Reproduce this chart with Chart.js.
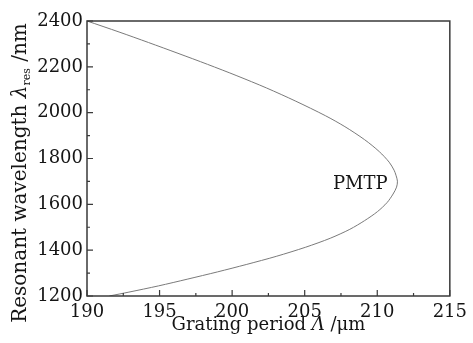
<!DOCTYPE html>
<html>
<head>
<meta charset="utf-8">
<script src="https://cdn.jsdelivr.net/npm/chart.js@4.4.0/dist/chart.umd.min.js"></script>
<style>
  html, body { margin: 0; padding: 0; background: #fff; }
  #wrap { width: 473px; height: 343px; }
</style>
</head>
<body>
<div id="wrap"><canvas id="chart"></canvas></div>
<script>
// curve, upper branch first, then lower branch
const periodUm = [190.00, 192.21, 194.24, 196.27, 198.30, 200.33, 202.36, 204.39, 206.42, 207.77,
  209.13, 210.14, 210.82, 211.16, 211.29, 211.39,
  211.33, 211.09, 210.68, 210.01, 209.13, 208.11, 206.76, 205.07, 203.04, 201.01,
  198.98, 196.95, 194.92, 192.89, 191.54];
const wavelengthNm = [2400, 2352, 2306, 2259, 2211, 2161, 2108, 2050, 1987, 1939,
  1882, 1830, 1784, 1749, 1727, 1701,
  1675, 1645, 1608, 1568, 1529, 1491, 1452, 1413, 1373, 1338,
  1305, 1274, 1244, 1217, 1200];

const xTicks = [190, 195, 200, 205, 210, 215];
const yTicks = [1200, 1400, 1600, 1800, 2000, 2200, 2400];
const xMinor = [192.5, 197.5, 202.5, 207.5, 212.5];
const yMinor = [1300, 1500, 1700, 1900, 2100, 2300];

const serif = "'DejaVu Serif', 'Liberation Serif', serif";
const ink = '#151515';

const framePlugin = {
  id: 'frame',
  afterDraw(chart) {
    const ctx = chart.ctx;
    const a = chart.chartArea;
    const xs = chart.scales.x, ys = chart.scales.y;
    ctx.save();
    ctx.strokeStyle = '#3a3a3a';
    ctx.lineWidth = 1.5;
    ctx.strokeRect(a.left, a.top, a.right - a.left, a.bottom - a.top);

    // inward ticks on bottom and left
    ctx.lineWidth = 1.2;
    ctx.beginPath();
    xTicks.forEach(v => { const p = xs.getPixelForValue(v); ctx.moveTo(p, a.bottom); ctx.lineTo(p, a.bottom - 6); });
    xMinor.forEach(v => { const p = xs.getPixelForValue(v); ctx.moveTo(p, a.bottom); ctx.lineTo(p, a.bottom - 3); });
    yTicks.forEach(v => { const p = ys.getPixelForValue(v); ctx.moveTo(a.left, p); ctx.lineTo(a.left + 6, p); });
    yMinor.forEach(v => { const p = ys.getPixelForValue(v); ctx.moveTo(a.left, p); ctx.lineTo(a.left + 3, p); });
    ctx.stroke();

    // PMTP label
    ctx.fillStyle = ink;
    ctx.font = '18px ' + serif;
    ctx.textAlign = 'left';
    ctx.textBaseline = 'middle';
    ctx.fillText('PMTP', 333, 184);

    // x axis title
    ctx.textBaseline = 'alphabetic';
    const xParts = [['Grating period ', '18px ' + serif], ['Λ', 'italic 18px ' + serif], [' /μm', '18px ' + serif]];
    let w = 0;
    xParts.forEach(p => { ctx.font = p[1]; w += ctx.measureText(p[0]).width; });
    let x = (a.left + a.right) / 2 - w / 2;
    xParts.forEach(p => { ctx.font = p[1]; ctx.fillText(p[0], x, 330); x += ctx.measureText(p[0]).width; });

    // y axis title, rotated
    ctx.translate(26, 173);
    ctx.rotate(-Math.PI / 2);
    const yParts = [['Resonant wavelength ', '20px ' + serif, 0], ['λ', 'italic 20px ' + serif, 0],
      ['res', '11px ' + serif, 4], [' /nm', '20px ' + serif, 0]];
    w = 0;
    yParts.forEach(p => { ctx.font = p[1]; w += ctx.measureText(p[0]).width; });
    x = -w / 2;
    yParts.forEach(p => { ctx.font = p[1]; ctx.fillText(p[0], x, p[2]); x += ctx.measureText(p[0]).width; });
    ctx.restore();
  }
};

new Chart(document.getElementById('chart'), {
  type: 'scatter',
  data: {
    datasets: [{
      data: periodUm.map((v, i) => ({ x: v, y: wavelengthNm[i] })),
      showLine: true,
      borderColor: '#7a7a7a',
      borderWidth: 1,
      pointRadius: 0,
      tension: 0.3
    }]
  },
  options: {
    responsive: true,
    maintainAspectRatio: false,
    animation: false,
    layout: { padding: { top: 21, right: 16, left: 0, bottom: 0 } },
    plugins: { legend: { display: false }, tooltip: { enabled: false } },
    scales: {
      x: {
        type: 'linear',
        min: 190, max: 215,
        afterFit: s => { s.height = 47; },
        afterBuildTicks: s => { s.ticks = xTicks.map(v => ({ value: v })); },
        grid: { display: false, drawTicks: false },
        border: { display: false },
        ticks: { padding: 6, color: ink, font: { family: serif, size: 18 }, callback: v => String(v) }
      },
      y: {
        type: 'linear',
        min: 1200, max: 2400,
        afterFit: s => { s.width = 87; },
        afterBuildTicks: s => { s.ticks = yTicks.map(v => ({ value: v })); },
        grid: { display: false, drawTicks: false },
        border: { display: false },
        ticks: { padding: 4, color: ink, font: { family: serif, size: 18 }, callback: v => String(v) }
      }
    }
  },
  plugins: [framePlugin]
});
</script>
</body>
</html>
